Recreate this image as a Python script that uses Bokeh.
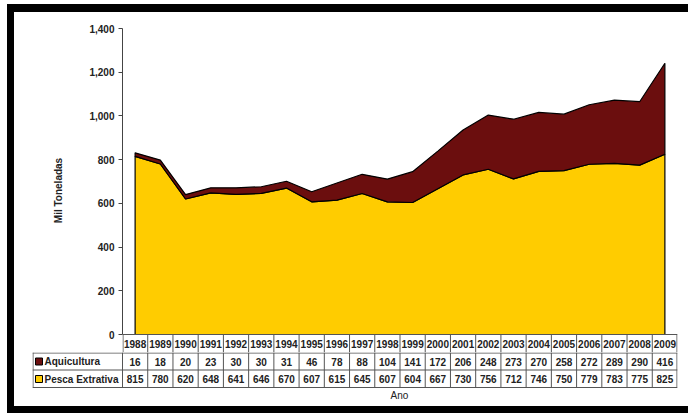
from bokeh.plotting import figure
from bokeh.models import Range1d, FixedTicker, NumeralTickFormatter, Div, Spacer
from bokeh.layouts import column, row
from bokeh.embed import file_html
from bokeh.resources import INLINE
from bokeh.core.properties import value

# ---------------- data ----------------
years = ["1988", "1989", "1990", "1991", "1992", "1993", "1994", "1995", "1996", "1997", "1998",
         "1999", "2000", "2001", "2002", "2003", "2004", "2005", "2006", "2007", "2008", "2009"]
aquicultura = [16, 18, 20, 23, 30, 30, 31, 46, 78, 88, 104, 141, 172, 206, 248, 273, 270, 258, 272, 289, 290, 416]
pesca_extrativa = [815, 780, 620, 648, 641, 646, 670, 607, 615, 645, 607, 604, 667, 730, 756, 712, 746, 750, 779, 783, 775, 825]
series_names = ["Aquicultura", "Pesca Extrativa"]
y_ticks = [0, 200, 400, 600, 800, 1000, 1200, 1400]
y_axis_title = "Mil Toneladas"
x_axis_title = "Ano"

AQUI_COLOR = "#6B0E0E"
PESCA_COLOR = "#FFCC00"
GRID_COLOR = "#555555"
FONT = "Liberation Sans"

n = len(years)
idx = list(range(n))
total = [p + a for p, a in zip(pesca_extrativa, aquicultura)]

# ---------------- geometry ----------------
frame_w = 555                      # px width of plot frame
px_per_unit = frame_w / n
label_col_px = 90
ymax = y_ticks[-1]
px_per_val = 306 / ymax
year_row_px = 18
y_low = -year_row_px / px_per_val

# ---------------- chart figure ----------------
pA = figure(width=674, height=340, x_range=Range1d(-0.5, n - 0.5), y_range=Range1d(y_low, ymax),
            output_backend="svg", toolbar_location=None, x_axis_location=None,
            min_border_left=108, min_border_right=11, min_border_top=16, min_border_bottom=0)
pA.outline_line_color = None
pA.grid.visible = False
pA.background_fill_color = "white"
pA.border_fill_color = "white"

# stacked areas
pA.patch(idx + idx[::-1], pesca_extrativa + [0] * n, fill_color=PESCA_COLOR, line_color="black", line_width=1.2)
pA.patch(idx + idx[::-1], total + pesca_extrativa[::-1], fill_color=AQUI_COLOR, line_color="black", line_width=1.2)

ax = pA.yaxis[0]
ax.bounds = (0, ymax)
ax.ticker = FixedTicker(ticks=y_ticks)
ax.formatter = NumeralTickFormatter(format="0,0")
ax.minor_tick_line_color = None
ax.major_tick_in = 0
ax.major_tick_out = 4
ax.major_label_standoff = 4
ax.axis_line_color = "#444444"
ax.major_tick_line_color = "#444444"
ax.major_label_text_font = FONT
ax.major_label_text_font_style = "bold"
ax.major_label_text_font_size = "10px"
ax.major_label_text_color = "#222222"
ax.axis_label = y_axis_title
ax.axis_label_text_font = FONT
ax.axis_label_text_font_style = "bold"
ax.axis_label_text_font_size = "10px"
ax.axis_label_text_color = "#222222"
ax.axis_label_standoff = 22

# year row (top of table) inside chart frame
pA.segment(x0=[-0.5], y0=[0], x1=[n - 0.5], y1=[0], line_color=GRID_COLOR, line_width=1)
eps = 0.02
vx = [i - 0.5 for i in range(n + 1)]
vx[0] += eps
vx[-1] -= eps
pA.segment(x0=vx, y0=[0] * len(vx), x1=vx, y1=[y_low] * len(vx), line_color=GRID_COLOR, line_width=1)
pA.text(x=idx, y=[y_low / 2] * n, text=years, text_align="center", text_baseline="middle",
        text_font=value(FONT), text_font_style="bold", text_font_size="10px", text_color="#222222")

# ---------------- table figure ----------------
x_left = -0.5 - label_col_px / px_per_unit
pB = figure(width=674, height=54, x_range=Range1d(x_left, n - 0.5), y_range=Range1d(-54, 0),
            output_backend="svg", toolbar_location=None, x_axis_location=None, y_axis_location=None,
            min_border_left=18, min_border_right=11, min_border_top=0, min_border_bottom=0)
pB.outline_line_color = None
pB.grid.visible = False
pB.background_fill_color = "white"
pB.border_fill_color = "white"

row_edges = [-0.5, -17.5, -35]
pB.segment(x0=[x_left] * 3, y0=row_edges, x1=[n - 0.5] * 3, y1=row_edges, line_color=GRID_COLOR, line_width=1)
vxb = [x_left + 0.02] + [i - 0.5 for i in range(n + 1)]
vxb[-1] -= eps
pB.segment(x0=vxb, y0=[0] * len(vxb), x1=vxb, y1=[-35] * len(vxb), line_color=GRID_COLOR, line_width=1)

row_y = [-9, -26.5]
for vals, yy in zip([aquicultura, pesca_extrativa], row_y):
    pB.text(x=idx, y=[yy] * n, text=[str(v) for v in vals], text_align="center", text_baseline="middle",
            text_font=value(FONT), text_font_style="bold", text_font_size="10px", text_color="#222222")

sq_x = -0.5 - (122 - 38.5) / px_per_unit
lab_x = -0.5 - (122 - 44) / px_per_unit
pB.scatter(x=[sq_x, sq_x], y=row_y, marker="square", size=7,
           fill_color=[AQUI_COLOR, PESCA_COLOR], line_color="black", line_width=1)
pB.text(x=[lab_x, lab_x], y=row_y, text=series_names, text_align="left", text_baseline="middle",
        text_font=value(FONT), text_font_style="bold", text_font_size="10px", text_color="#222222")

pB.text(x=[-0.5 + (399 - 122) / px_per_unit], y=[-43], text=[x_axis_title], text_align="center",
        text_baseline="middle", text_font=value(FONT), text_font_size="10px", text_color="#222222")

# ---------------- decorative frame ----------------
def bar(w, h):
    return Div(text="", width=w, height=h, margin=(0, 0, 0, 0), styles={"background-color": "#000000"})

layout = column(
    Spacer(width=688, height=4, margin=(0, 0, 0, 0)),
    row(Spacer(width=7, height=8, margin=(0, 0, 0, 0)), bar(681, 8), spacing=0),
    row(Spacer(width=7, height=394, margin=(0, 0, 0, 0)), bar(7, 394),
        column(row(pA, spacing=0), row(pB, spacing=0), spacing=0), spacing=0),
    row(Spacer(width=7, height=7, margin=(0, 0, 0, 0)), bar(681, 7), spacing=0),
    spacing=0,
)

open("out.html", "w").write(file_html(layout, INLINE))
